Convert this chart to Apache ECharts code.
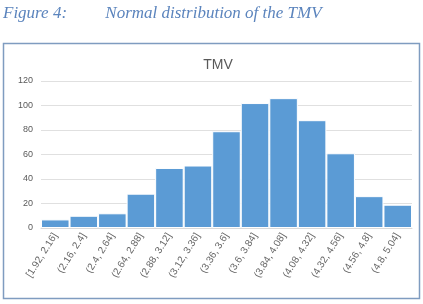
<!DOCTYPE html>
<html>
<head>
<meta charset="utf-8">
<script src="https://cdn.jsdelivr.net/npm/echarts@6/dist/echarts.min.js"></script>
<style>
  html, body { margin: 0; padding: 0; background: #fff; }
  #main { width: 423px; height: 304px; }
</style>
</head>
<body>
<div id="main"></div>
<script>
// histogram bins and counts
const bins = ['[1.92, 2.16]', '(2.16, 2.4]', '(2.4, 2.64]', '(2.64, 2.88]', '(2.88, 3.12]',
  '(3.12, 3.36]', '(3.36, 3.6]', '(3.6, 3.84]', '(3.84, 4.08]', '(4.08, 4.32]',
  '(4.32, 4.56]', '(4.56, 4.8]', '(4.8, 5.04]'];
const counts = [7, 10, 12, 28, 49, 51, 79, 102, 106, 88, 61, 26, 19];

const chart = echarts.init(document.getElementById('main'));

const option = {
  animation: false,
  title: {
    text: 'TMV',
    left: 213,
    textAlign: 'center',
    top: 53,
    textStyle: {
      fontFamily: 'Liberation Sans',
      fontSize: 14,
      fontWeight: 'normal',
      color: '#595959'
    }
  },
  graphic: [
    {
      type: 'text',
      left: 3,
      top: 5,
      style: {
        text: 'Figure 4:         Normal distribution of the TMV',
        font: 'italic 17px "Liberation Serif"',
        fill: '#5b84bd'
      }
    },
    {
      type: 'rect',
      shape: { x: 3.5, y: 43.5, width: 416, height: 255 },
      style: { fill: 'none', stroke: '#7f9cc0', lineWidth: 1.5 },
      silent: true
    }
  ],
  grid: {
    left: 41,
    right: 11,
    top: 81,
    bottom: 76
  },
  xAxis: {
    type: 'category',
    data: bins,
    axisTick: { show: false },
    axisLine: { lineStyle: { color: '#d9d9d9' } },
    axisLabel: {
      rotate: 58,
      interval: 0,
      fontFamily: 'Liberation Sans',
      fontSize: 10,
      color: '#666666',
      margin: 6
    }
  },
  yAxis: {
    type: 'value',
    min: 0,
    max: 120,
    interval: 20,
    axisLine: { show: false },
    axisTick: { show: false },
    axisLabel: {
      fontFamily: 'Liberation Sans',
      fontSize: 9,
      color: '#595959',
      margin: 8
    },
    splitLine: { lineStyle: { color: '#e0e0e0' } }
  },
  series: [{
    type: 'bar',
    data: counts,
    barCategoryGap: 0,
    itemStyle: {
      color: '#5b9bd5',
      borderColor: '#ffffff',
      borderWidth: 1
    }
  }]
};

chart.setOption(option);
</script>
</body>
</html>
